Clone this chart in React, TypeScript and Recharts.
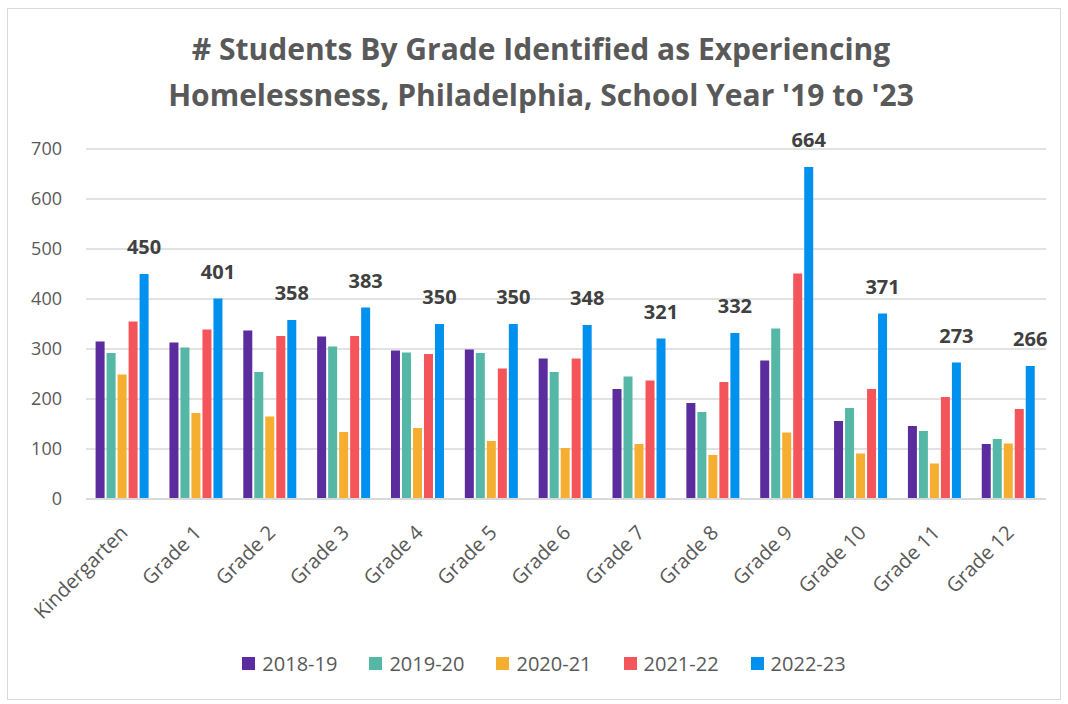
import { BarChart, Bar, XAxis, YAxis, CartesianGrid, LabelList } from 'recharts';

const grades = ['Kindergarten', 'Grade 1', 'Grade 2', 'Grade 3', 'Grade 4', 'Grade 5', 'Grade 6', 'Grade 7', 'Grade 8', 'Grade 9', 'Grade 10', 'Grade 11', 'Grade 12'];

const y2018 = [315, 313, 337, 325, 297, 299, 281, 220, 192, 277, 156, 146, 110];
const y2019 = [292, 303, 254, 305, 293, 292, 254, 245, 174, 341, 182, 136, 120];
const y2020 = [249, 172, 165, 134, 142, 116, 102, 110, 88, 133, 91, 71, 111];
const y2021 = [355, 339, 326, 326, 290, 261, 281, 237, 234, 451, 220, 204, 180];
const y2022 = [450, 401, 358, 383, 350, 350, 348, 321, 332, 664, 371, 273, 266];

const yTicks = [0, 100, 200, 300, 400, 500, 600, 700];

const series = [
  { key: 'y2018', name: '2018-19', color: '#5B2C9E' },
  { key: 'y2019', name: '2019-20', color: '#55B8A6' },
  { key: 'y2020', name: '2020-21', color: '#F5AE30' },
  { key: 'y2021', name: '2021-22', color: '#F4555B' },
  { key: 'y2022', name: '2022-23', color: '#0091EE' },
];

const data = grades.map((g, i) => ({
  grade: g,
  y2018: y2018[i],
  y2019: y2019[i],
  y2020: y2020[i],
  y2021: y2021[i],
  y2022: y2022[i],
}));

const FONT = '"Open Sans", sans-serif';
const TEXT = '#595959';

const GradeTick = (props: any) => {
  const { x, y, payload } = props;
  return (
    <g transform={`translate(${x + 1},${y + 22})`}>
      <text
        x={0}
        y={0}
        dy="0.35em"
        textAnchor="end"
        transform="rotate(-45)"
        fill={TEXT}
        fontSize={20}
        fontFamily={FONT}
      >
        {payload.value}
      </text>
    </g>
  );
};

const TopLabel = (props: any) => {
  const { x, y, width, value } = props;
  return (
    <text
      x={x + width / 2}
      y={y - 20}
      textAnchor="middle"
      fill="#404040"
      fontSize={20}
      fontWeight={700}
      fontFamily={FONT}
    >
      {value}
    </text>
  );
};

export default function App() {
  return (
    <div style={{ position: 'absolute', left: 0, top: 0, width: 1068, height: 704, background: '#fff', fontFamily: FONT }}>
      <div
        style={{
          position: 'absolute',
          left: 7,
          top: 8,
          width: 1052,
          height: 690,
          border: '1.5px solid #d9d9d9',
        }}
      />
      <div
        style={{
          position: 'absolute',
          left: 91,
          width: 900,
          top: 26,
          textAlign: 'center',
          color: TEXT,
          fontSize: 30,
          fontWeight: 700,
          lineHeight: '46px',
        }}
      >
        # Students By Grade Identified as Experiencing
        <br />
        Homelessness, Philadelphia, School Year '19 to '23
      </div>
      <div style={{ position: 'absolute', left: 0, top: 0 }}>
        <BarChart
          width={1068}
          height={704}
          data={data}
          margin={{ top: 149, right: 22, bottom: 0, left: 0 }}
          barCategoryGap="13%"
          barGap={2}
        >
          <CartesianGrid vertical={false} stroke="#d9d9d9" strokeWidth={1.5} />
          <XAxis
            dataKey="grade"
            interval={0}
            height={205}
            tick={<GradeTick />}
            tickLine={false}
            axisLine={{ stroke: '#d9d9d9', strokeWidth: 2 }}
          />
          <YAxis
            domain={[0, 700]}
            ticks={yTicks}
            width={86}
            axisLine={false}
            tickLine={false}
            tickMargin={18}
            tick={{ fill: TEXT, fontSize: 18, fontFamily: FONT }}
          />
          {series.map((s) => (
            <Bar key={s.key} dataKey={s.key} name={s.name} fill={s.color} isAnimationActive={false}>
              {s.key === 'y2022' && <LabelList dataKey={s.key} content={<TopLabel />} />}
            </Bar>
          ))}
        </BarChart>
      </div>
      <div
        style={{
          position: 'absolute',
          left: 0,
          width: 1088,
          top: 650,
          display: 'flex',
          justifyContent: 'center',
          gap: 32,
          color: TEXT,
          fontSize: 20,
        }}
      >
        {series.map((s) => (
          <div key={s.key} style={{ display: 'flex', alignItems: 'center', gap: 7 }}>
            <span style={{ display: 'inline-block', width: 13, height: 13, background: s.color }} />
            <span>{s.name}</span>
          </div>
        ))}
      </div>
    </div>
  );
}
